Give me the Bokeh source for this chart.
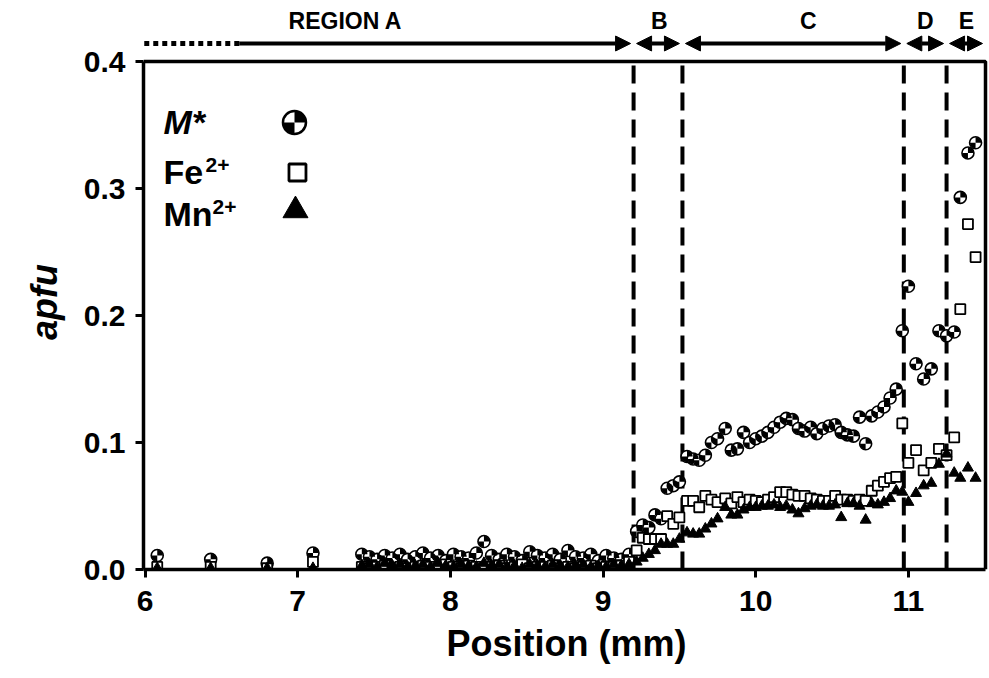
import math
from bokeh.plotting import figure
from bokeh.layouts import column
from bokeh.models import (Range1d, FixedTicker, PrintfTickFormatter, Arrow, NormalHead,
                          ColumnDataSource)
from bokeh.embed import file_html
from bokeh.resources import INLINE
from bokeh.core.properties import value

# ---------------- data ----------------
position = [
    6.08, 6.43, 6.80, 7.10,
    7.42, 7.47, 7.52, 7.57, 7.62, 7.67, 7.72, 7.77, 7.82, 7.87, 7.92, 7.97,
    8.02, 8.07, 8.12, 8.17, 8.22, 8.27, 8.32, 8.37, 8.42, 8.47, 8.52, 8.57,
    8.62, 8.67, 8.72, 8.77, 8.82, 8.87, 8.92, 8.97, 9.02, 9.07, 9.12, 9.17,
    9.22, 9.26, 9.30, 9.34, 9.38, 9.42, 9.46, 9.50,
    9.55, 9.59, 9.63, 9.67, 9.71, 9.75, 9.80, 9.84, 9.88, 9.92, 9.96, 10.00,
    10.04, 10.08, 10.12, 10.16, 10.20, 10.24, 10.28, 10.32, 10.36, 10.40, 10.44,
    10.48, 10.52, 10.56, 10.60, 10.64, 10.68, 10.72, 10.76, 10.80, 10.84, 10.88, 10.92,
    10.96, 11.00, 11.05, 11.10, 11.15, 11.20, 11.25, 11.30, 11.34, 11.39, 11.44,
]
m_star = [
    0.011, 0.008, 0.005, 0.013,
    0.012, 0.010, 0.008, 0.011, 0.009, 0.012, 0.008, 0.010, 0.013, 0.009, 0.011, 0.007,
    0.012, 0.010, 0.009, 0.013, 0.022, 0.011, 0.008, 0.012, 0.010, 0.007, 0.014, 0.011,
    0.009, 0.012, 0.008, 0.015, 0.010, 0.009, 0.012, 0.007, 0.011, 0.009, 0.008, 0.012,
    0.030, 0.035, 0.033, 0.043, 0.040, 0.064, 0.066, 0.069,
    0.089, 0.087, 0.086, 0.090, 0.100, 0.103, 0.111, 0.094, 0.095, 0.108, 0.100, 0.103,
    0.105, 0.108, 0.112, 0.116, 0.119, 0.118, 0.111, 0.109, 0.112, 0.107, 0.111,
    0.113, 0.114, 0.108, 0.106, 0.105, 0.120, 0.099, 0.121, 0.124, 0.128, 0.135, 0.142,
    0.188, 0.223, 0.162, 0.150, 0.158, 0.188, 0.184, 0.187, 0.293, 0.328, 0.336,
]
fe2 = [
    0.002, 0.002, 0.001, 0.006,
    0.002, 0.001, 0.002, 0.003, 0.001, 0.002, 0.001, 0.002, 0.003, 0.002, 0.001, 0.004,
    0.002, 0.001, 0.003, 0.002, 0.001, 0.002, 0.003, 0.001, 0.002, 0.004, 0.001, 0.002,
    0.002, 0.003, 0.001, 0.002, 0.001, 0.002, 0.003, 0.001, 0.002, 0.002, 0.003, 0.006,
    0.015, 0.025, 0.024, 0.024, 0.024, 0.042, 0.036, 0.041,
    0.054, 0.054, 0.049, 0.058, 0.055, 0.053, 0.056, 0.052, 0.057, 0.053, 0.055, 0.054,
    0.053, 0.055, 0.057, 0.061, 0.061, 0.059, 0.058, 0.058, 0.056, 0.055, 0.054,
    0.054, 0.058, 0.055, 0.055, 0.054, 0.055, 0.054, 0.062, 0.066, 0.069, 0.072, 0.073,
    0.115, 0.084, 0.094, 0.078, 0.084, 0.095, 0.090, 0.104, 0.205, 0.272, 0.246,
]
mn2 = [
    0.001, 0.001, 0.001, 0.001,
    0.003, 0.004, 0.002, 0.005, 0.003, 0.004, 0.002, 0.003, 0.004, 0.002, 0.005, 0.003,
    0.002, 0.004, 0.003, 0.002, 0.005, 0.003, 0.004, 0.002, 0.003, 0.001, 0.004, 0.003,
    0.002, 0.004, 0.003, 0.002, 0.003, 0.004, 0.002, 0.003, 0.002, 0.004, 0.003, 0.004,
    0.006, 0.009, 0.012, 0.015, 0.020, 0.020, 0.020, 0.024,
    0.029, 0.028, 0.028, 0.032, 0.036, 0.040, 0.049, 0.043, 0.043, 0.047, 0.049, 0.049,
    0.050, 0.050, 0.051, 0.049, 0.050, 0.047, 0.044, 0.048, 0.050, 0.051, 0.050,
    0.050, 0.051, 0.041, 0.052, 0.052, 0.050, 0.039, 0.052, 0.051, 0.053, 0.056, 0.062,
    0.061, 0.053, 0.060, 0.066, 0.068, 0.083, 0.091, 0.076, 0.072, 0.080, 0.072,
]
x_ticks = [6, 7, 8, 9, 10, 11]
y_ticks = [0.0, 0.1, 0.2, 0.3, 0.4]
region_bounds = [5.995, 9.2, 9.52, 10.97, 11.25, 11.505]
region_labels = ["REGION A", "B", "C", "D", "E"]
legend_names = ["M*", "Fe", "Mn"]
legend_sup = ["", "2+", "2+"]
x_title = "Position (mm)"
y_title = "apfu"

# ---------------- layout helpers ----------------
FONT = "Liberation Sans"
X_MIN, X_MAX = 5.99, 11.505
Y_MAX = 0.4
PX_X = 152.7          # pixels per mm
PX_Y = 1270.0         # pixels per apfu
TOP_H = 34            # strip holding the region names
AXIS0 = 569           # canvas row of y = 0

def dx(px):
    return px / PX_X

def cx(px):
    """canvas pixel column -> data x"""
    return X_MIN + (px - 143) / PX_X

def cy(py):
    """canvas pixel row -> data y"""
    return (AXIS0 - py) / PX_Y

x_range = Range1d(X_MIN, X_MAX + dx(4))

# ---------------- top strip: region names ----------------
top = figure(width=989, height=TOP_H, output_backend="svg", toolbar_location=None,
             x_range=x_range, y_range=Range1d(0, TOP_H),
             x_axis_type=None, y_axis_type=None,
             min_border_left=143, min_border_right=0, min_border_top=0, min_border_bottom=0)
top.outline_line_color = None
top.xgrid.visible = False
top.ygrid.visible = False
top.background_fill_color = "white"
top.border_fill_color = "white"

label_x = [cx(345), cx(659), cx(808), cx(925), cx(966)]
top.text(x=label_x, y=[TOP_H - 20] * 5, text=region_labels,
         text_font=value(FONT), text_font_style="bold", text_font_size="23px",
         text_align="center", text_baseline="middle", text_color="black")

# ---------------- main plot ----------------
p = figure(width=989, height=678 - TOP_H, output_backend="svg", toolbar_location=None,
           x_range=x_range, y_range=Range1d(0, cy(TOP_H)),
           min_border_left=143, min_border_right=0, min_border_top=0, min_border_bottom=678 - AXIS0)
p.outline_line_color = None
p.xgrid.visible = False
p.ygrid.visible = False
p.background_fill_color = "white"
p.border_fill_color = "white"

for ax in (p.xaxis[0], p.yaxis[0]):
    ax.axis_line_width = 3.5
    ax.axis_line_color = "black"
    ax.major_tick_line_width = 3
    ax.major_tick_line_color = "black"
    ax.major_tick_out = 8
    ax.major_tick_in = 0
    ax.minor_tick_line_color = None
    ax.major_label_text_font = FONT
    ax.major_label_text_font_style = "bold"
    ax.major_label_text_font_size = "30px"
    ax.major_label_text_color = "black"
    ax.axis_label_text_font = FONT
    ax.axis_label_text_font_size = "36px"
    ax.axis_label_text_color = "black"

xa = p.xaxis[0]
xa.ticker = FixedTicker(ticks=x_ticks)
xa.bounds = (X_MIN, X_MAX)
xa.major_label_standoff = 13
xa.axis_label = x_title
xa.axis_label_text_font_style = "bold"
xa.axis_label_standoff = 9

ya = p.yaxis[0]
ya.ticker = FixedTicker(ticks=y_ticks)
ya.formatter = PrintfTickFormatter(format="%.1f")
ya.bounds = (0, Y_MAX)
ya.major_label_standoff = 10
ya.axis_label = y_title
ya.axis_label_text_font_style = "bold italic"
ya.axis_label_standoff = 16

# top & right edges of the box
p.line(x=[X_MIN, X_MAX, X_MAX], y=[Y_MAX, Y_MAX, 0], line_color="black", line_width=3.5)

# region dashed boundaries
inner = region_bounds[1:-1]
p.segment(x0=inner, y0=[0] * len(inner), x1=inner, y1=[Y_MAX] * len(inner),
          line_color="black", line_width=4, line_dash="18 9")

# region arrows
ARROW_Y = cy(43)
gap = dx(3)
p.segment(x0=[region_bounds[0]], y0=[ARROW_Y], x1=[region_bounds[0] + dx(95)], y1=[ARROW_Y],
          line_color="black", line_width=5, line_dash="5 4")
for i in range(len(region_labels)):
    a = region_bounds[i] + gap
    b = region_bounds[i + 1] - gap
    if i == 0:
        a = region_bounds[0] + dx(95)
        start = None
    else:
        start = NormalHead(size=15, fill_color="black", line_color="black")
    p.add_layout(Arrow(x_start=a, y_start=ARROW_Y, x_end=b, y_end=ARROW_Y,
                       start=start,
                       end=NormalHead(size=15, fill_color="black", line_color="black"),
                       line_width=4, line_color="black"))

# ---------------- data marks ----------------
src = ColumnDataSource(dict(x=position, m=m_star, fe=fe2, mn=mn2))

def mstar_marker(source, xcol, ycol, size, lw):
    p.scatter(x=xcol, y=ycol, source=source, marker="circle", size=size,
              fill_color="white", line_color="black", line_width=lw)
    r = size / 2.0 - 0.3
    p.wedge(x=xcol, y=ycol, source=source, radius=r, radius_units="screen",
            start_angle=0, end_angle=math.pi / 2, fill_color="black", line_color=None)
    p.wedge(x=xcol, y=ycol, source=source, radius=r, radius_units="screen",
            start_angle=math.pi, end_angle=1.5 * math.pi, fill_color="black", line_color=None)

mstar_marker(src, "x", "m", 12, 1.6)
p.scatter(x="x", y="fe", source=src, marker="square", size=10,
          fill_color="white", line_color="black", line_width=1.8)
p.scatter(x="x", y="mn", source=src, marker="triangle", size=11,
          fill_color="black", line_color="black", line_width=1)

# ---------------- legend ----------------
lx = cx(163)
p.text(x=[lx], y=[cy(121)], text=[legend_names[0]], text_font=value(FONT),
       text_font_style="bold italic", text_font_size="34px", text_baseline="middle",
       text_color="black")
p.text(x=[lx, lx], y=[cy(171), cy(213)], text=legend_names[1:], text_font=value(FONT),
       text_font_style="bold", text_font_size="34px", text_baseline="middle",
       text_color="black")
p.text(x=[cx(205), cx(212)], y=[cy(164), cy(206)], text=legend_sup[1:], text_font=value(FONT),
       text_font_style="bold", text_font_size="21px", text_baseline="middle",
       text_color="black")

leg_src = ColumnDataSource(dict(x=[cx(294)], y=[cy(122)]))
mstar_marker(leg_src, "x", "y", 23, 2.5)
p.scatter(x=[cx(297)], y=[cy(172)], marker="square", size=17,
          fill_color="white", line_color="black", line_width=2.8)
p.scatter(x=[cx(295)], y=[cy(210)], marker="triangle", size=25,
          fill_color="black", line_color="black")

layout = column(top, p, spacing=0)
open("out.html", "w").write(file_html(layout, INLINE))
